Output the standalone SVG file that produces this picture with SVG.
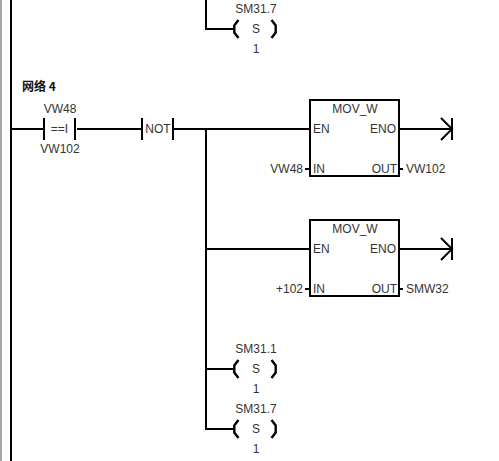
<svg xmlns="http://www.w3.org/2000/svg" width="499" height="461" viewBox="0 0 499 461">
<style>
text{font-family:"Liberation Sans",Arial,sans-serif;font-size:12px;fill:#333}
.m{text-anchor:middle}.e{text-anchor:end}
.w{fill:none;stroke:#000;stroke-width:2}
.t{fill:none;stroke:#000;stroke-width:2}
.c{fill:none;stroke:#000;stroke-width:2.400}
</style>
<defs>
<g id="coil"><path class="c" d="M238.500 -9L234.300 -3.500V3.500L238.500 9M271.500 -9L275.700 -3.500V3.500L271.500 9"/></g>
<g id="end"><path class="t" d="M428 0H452M441 -11L452 0L441 11M452 -11V11"/></g>
</defs>
<rect x="0" y="0" width="499" height="461" fill="#fff"/>
<rect x="0" y="0" width="2" height="461" fill="#a8a8a0"/>
<g id="connectors">
<path class="w" d="M11 0V461"/>
<path class="w" d="M206 0V29H234"/>
<path class="w" d="M11 129H44M77 129H142M174 129H310M206 129V429H234M206 249H310M206 369H234"/>
<path class="w" d="M305 169H310M305 289H310M399 169H403M399 289H403"/>
<path class="w" d="M399 129H428M399 249H428"/>
</g>
<g id="top-coil"><use href="#coil" y="29"/><text class="m" x="256" y="13">SM31.7</text><text class="m" x="256" y="33">S</text><text class="m" x="256" y="53">1</text></g>
<text x="22" y="91" style="font-family:'Noto Sans CJK SC','Liberation Sans',sans-serif;font-weight:700;font-size:12px;fill:#111">网络 4</text>
<g id="compare"><path class="t" d="M44 118V140M75 118V140"/><text class="m" x="60" y="113">VW48</text><text class="m" x="59.500" y="133">==I</text><text class="m" x="60" y="153">VW102</text></g>
<g id="not"><path class="t" d="M142 118V140M173 118V140"/><text class="m" x="158" y="133">NOT</text></g>
<g id="mov1"><rect class="w" x="310" y="100" width="89" height="76" fill="#fff"/><use href="#end" y="129"/><text class="m" x="355" y="113">MOV_W</text><text x="313" y="133">EN</text><text class="e" x="396" y="133">ENO</text><text x="313" y="173">IN</text><text class="e" x="397" y="173">OUT</text><text class="e" x="303" y="173">VW48</text><text x="406" y="173">VW102</text></g>
<g id="mov2"><rect class="w" x="310" y="220" width="89" height="76" fill="#fff"/><use href="#end" y="249"/><text class="m" x="355" y="233">MOV_W</text><text x="313" y="253">EN</text><text class="e" x="396" y="253">ENO</text><text x="313" y="293">IN</text><text class="e" x="397" y="293">OUT</text><text class="e" x="303" y="293">+102</text><text x="406" y="293">SMW32</text></g>
<g id="coil1"><use href="#coil" y="369"/><text class="m" x="256" y="353">SM31.1</text><text class="m" x="256" y="373">S</text><text class="m" x="256" y="393">1</text></g>
<g id="coil2"><use href="#coil" y="429"/><text class="m" x="256" y="413">SM31.7</text><text class="m" x="256" y="433">S</text><text class="m" x="256" y="453">1</text></g>
</svg>
